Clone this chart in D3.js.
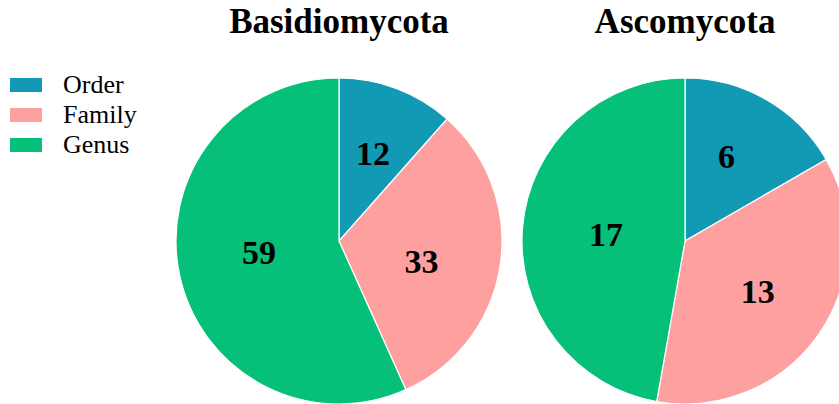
<!DOCTYPE html>
<html>
<head>
<meta charset="utf-8">
<script src="https://cdn.jsdelivr.net/npm/d3@7"></script>
<style>
  html, body { margin: 0; padding: 0; background: #fff; }
  svg { display: block; }
  svg text { font-family: "Liberation Serif", "Times New Roman", serif; }
</style>
</head>
<body>
<svg id="chart" width="839" height="404"></svg>
<script>
// ---- data ----
const categories = ["Order", "Family", "Genus"];
const groups = ["Basidiomycota", "Ascomycota"];
const basidiomycotaValues = [12, 33, 59];
const ascomycotaValues = [6, 13, 17];
const colors = ["#1299b3", "#ffa0a0", "#06bf78"];

// ---- layout ----
const radius = 163;
const centers = [[339, 241], [685, 241]];
const labelRadius = 90;
// small manual label nudges (as in the original figure), per pie per slice
const labelNudges = [
  [[2, -3], [-6.5, 6.5], [8, -7]],
  [[-3.5, -6.6], [-1, -1.6], [10.7, 0.8]]
];

const svg = d3.select("#chart");
const color = d3.scaleOrdinal().domain(categories).range(colors);
const pie = d3.pie().sort(null).value(d => d.value);
const arc = d3.arc().innerRadius(0).outerRadius(radius);
const labelArc = d3.arc().innerRadius(labelRadius).outerRadius(labelRadius);

const seriesList = [basidiomycotaValues, ascomycotaValues];

seriesList.forEach((vals, gi) => {
  const data = categories.map((c, i) => ({ category: c, value: vals[i] }));
  const g = svg.append("g")
    .attr("transform", `translate(${centers[gi][0]},${centers[gi][1]})`);
  const arcs = pie(data);
  g.selectAll("path.slice")
    .data(arcs)
    .join("path")
    .attr("class", "slice")
    .attr("d", arc)
    .attr("fill", d => color(d.data.category))
    .attr("stroke", "#fff")
    .attr("stroke-width", 1.2);

  g.selectAll("text.lbl")
    .data(arcs)
    .join("text")
    .attr("class", "lbl")
    .attr("x", (d, i) => labelArc.centroid(d)[0] + labelNudges[gi][i][0])
    .attr("y", (d, i) => labelArc.centroid(d)[1] + labelNudges[gi][i][1])
    .attr("dy", "0.34em")
    .attr("text-anchor", "middle")
    .style("font-weight", "bold")
    .style("font-size", "34px")
    .attr("fill", "#000")
    .text(d => d.data.value);

  svg.append("text")
    .attr("x", centers[gi][0])
    .attr("y", 33)
    .attr("text-anchor", "middle")
    .style("font-weight", "bold")
    .style("font-size", "35px")
    .attr("fill", "#000")
    .text(groups[gi]);
});

// ---- legend ----
const legend = svg.append("g").attr("transform", "translate(10,78)");
const items = legend.selectAll("g.item")
  .data(categories)
  .join("g")
  .attr("class", "item")
  .attr("transform", (d, i) => `translate(0,${i * 30})`);
items.append("rect")
  .attr("width", 32)
  .attr("height", 14)
  .attr("fill", d => color(d));
items.append("text")
  .attr("x", 53)
  .attr("y", 15)
  .style("font-size", "26px")
  .attr("fill", "#000")
  .text(d => d);
</script>
</body>
</html>
